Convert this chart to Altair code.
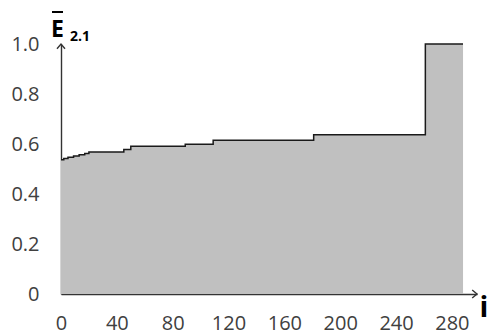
import altair as alt
import pandas as pd

# step function values
idx = [0, 2, 5, 9, 13, 17, 20, 42, 45, 50, 89, 109, 181, 261, 288]
val = [0.537, 0.542, 0.547, 0.552, 0.557, 0.562, 0.568, 0.568, 0.578, 0.591,
       0.599, 0.615, 0.637, 1.0, 1.0]
x_ticks = [0, 40, 80, 120, 160, 200, 240, 280]
y_ticks = [0, 0.2, 0.4, 0.6, 0.8, 1.0]

df = pd.DataFrame({"i": idx, "E": val})

X_MAX = 298
xs = alt.Scale(domain=[0, X_MAX], nice=False, zero=False)
ys = alt.Scale(domain=[0, 1.0], nice=False)

label_color = "#404040"
FONT = "Open Sans"

x_axis = alt.Axis(values=x_ticks, title=None, grid=False, ticks=False,
                  domainColor="#333333", domainWidth=1.6,
                  labelFont=FONT, labelFontSize=20, labelColor=label_color,
                  labelPadding=19, labelFlush=False)
y_axis = alt.Axis(values=y_ticks, title=None, grid=False, ticks=False,
                  domainColor="#333333", domainWidth=1.4,
                  labelFont=FONT, labelFontSize=20, labelColor=label_color,
                  labelPadding=22,
                  labelExpr="datum.value == 0 ? '0' : format(datum.value, '.1f')")

area = alt.Chart(df).mark_area(interpolate="step-after", color="#c0c0c0").encode(
    x=alt.X("i:Q", scale=xs, axis=x_axis),
    y=alt.Y("E:Q", scale=ys, axis=y_axis),
)
line = alt.Chart(df).mark_line(interpolate="step-after", color="#1a1a1a",
                               strokeWidth=1.5).encode(
    x=alt.X("i:Q", scale=xs),
    y=alt.Y("E:Q", scale=ys),
)

arrow_x = alt.Chart(pd.DataFrame({"i": [X_MAX], "E": [0.0]})).mark_point(
    shape="M-1.2,-1L0,0L-1.2,1", filled=False, color="#333333",
    strokeWidth=1.4, size=64, opacity=1).encode(
    x=alt.X("i:Q", scale=xs), y=alt.Y("E:Q", scale=ys))
arrow_y = alt.Chart(pd.DataFrame({"i": [0], "E": [1.0]})).mark_point(
    shape="M-1,1.2L0,0L1,1.2", filled=False, color="#333333",
    strokeWidth=1.4, size=64, opacity=1).encode(
    x=alt.X("i:Q", scale=xs), y=alt.Y("E:Q", scale=ys))

one = pd.DataFrame({"t": ["E"]})
e_text = alt.Chart(one).mark_text(font=FONT, fontSize=23, fontWeight="bold",
                                  color="black", baseline="alphabetic",
                                  align="center").encode(
    text=alt.value("E"), x=alt.value(-3.5), y=alt.value(-7))
sub_text = alt.Chart(one).mark_text(font=FONT, fontSize=14, fontWeight="bold",
                                    color="black", baseline="alphabetic",
                                    align="left").encode(
    text=alt.value("2.1"), x=alt.value(9), y=alt.value(-3))
overline = alt.Chart(one).mark_rule(color="black", strokeWidth=2).encode(
    x=alt.value(-9), x2=alt.value(2), y=alt.value(-32))
i_text = alt.Chart(one).mark_text(font=FONT, fontSize=29, fontWeight="bold",
                                  color="black", baseline="alphabetic",
                                  align="center").encode(
    text=alt.value("i"), x=alt.value(423), y=alt.value(273))

chart = alt.layer(area, line, arrow_x, arrow_y, e_text, sub_text, overline,
                  i_text).properties(
    width=416, height=250,
    autosize=alt.AutoSizeParams(type="none"),
    padding={"left": 53, "top": 36, "right": 12, "bottom": 40},
).configure_view(stroke=None)

chart.save("out.html", embed_options={"renderer": "svg", "actions": False})
